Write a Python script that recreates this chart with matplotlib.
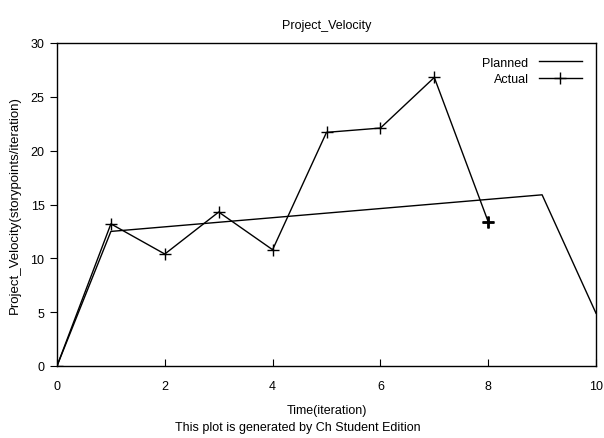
import matplotlib
matplotlib.use("Agg")
import matplotlib.pyplot as plt

# data
planned_x = [0, 1, 9, 10]
planned_y = [0, 12.5, 15.9, 4.9]
actual_x = [0, 1, 2, 3, 4, 5, 6, 7, 8]
actual_y = [0, 13.2, 10.4, 14.3, 10.8, 21.7, 22.1, 26.8, 13.4]
x_ticks = [0, 2, 4, 6, 8, 10]
y_ticks = [0, 5, 10, 15, 20, 25, 30]

plt.rcParams["font.family"] = ["Liberation Sans", "DejaVu Sans"]
plt.rcParams["font.size"] = 9

fig = plt.figure(figsize=(6.04, 4.39), dpi=100)
ax = fig.add_axes([57 / 604, 72 / 439, 539 / 604, 323 / 439])

ax.plot(planned_x, planned_y, color="black", lw=1.0, label="Planned")
ax.plot(actual_x, actual_y, color="black", lw=1.0, marker="+", ms=9,
        mew=1.0, label="Actual")
# last actual point drawn heavier
ax.plot(actual_x[-1:], actual_y[-1:], color="black", marker="+", ms=9, mew=2.0,
        ls="none")

ax.set_xlim(0, 10)
ax.set_ylim(0, 30)
ax.set_xticks(x_ticks)
ax.set_yticks(y_ticks)
ax.tick_params(axis="x", direction="in", length=5, pad=10)
ax.tick_params(axis="y", direction="out", length=5, pad=4)
for s in ax.spines.values():
    s.set_linewidth(1.0)

ax.set_title("Project_Velocity", fontsize=9, pad=11)
ax.set_ylabel("Project_Velocity(storypoints/iteration)", fontsize=9.5,
              labelpad=7)
ax.set_xlabel("Time(iteration)", fontsize=9, labelpad=9)
fig.text(298, 439 - 428, "This plot is generated by Ch Student Edition",
         transform=None, ha="center", va="center", fontsize=9)

leg = ax.legend(loc="upper right", frameon=False, markerfirst=False,
                handlelength=3.5, borderaxespad=0.7, labelspacing=0.35,
                fontsize=9)
for t in leg.get_texts():
    t.set_ha("right")

fig.savefig("out.png", dpi=100)
